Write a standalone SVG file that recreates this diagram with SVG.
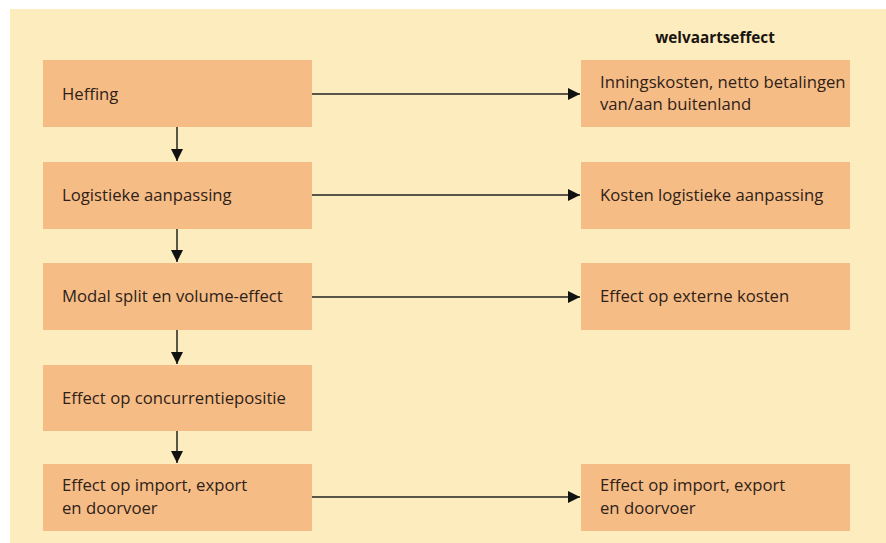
<svg xmlns="http://www.w3.org/2000/svg" width="886" height="543" viewBox="0 0 886 543">
<defs>
<marker id="ah" markerWidth="12" markerHeight="12" viewBox="0 0 12 12" refX="12" refY="6" orient="auto" markerUnits="userSpaceOnUse">
<path d="M0,0 L12,6 L0,12 Z" fill="#111"/>
</marker>
<style>
.box{fill:#F6BC86}
.t{font-family:"Open Sans","Noto Sans","Liberation Sans",sans-serif;font-size:16.7px;fill:#2e2218}
.h{font-family:"Open Sans","Noto Sans","Liberation Sans",sans-serif;font-size:15.3px;font-weight:bold;fill:#1a1410}
.c{stroke:#222;stroke-width:1.5;fill:none;marker-end:url(#ah)}
</style>
</defs>
<rect x="0" y="0" width="886" height="543" fill="#ffffff"/>
<rect x="10" y="9" width="876" height="534" fill="#FDEDBE"/>
<text class="h" x="715" y="43" text-anchor="middle">welvaartseffect</text>
<g id="heffing"><rect class="box" x="43" y="60" width="269" height="67"/><text class="t" x="62" y="100">Heffing</text></g>
<g id="logistiek"><rect class="box" x="43" y="162" width="269" height="67"/><text class="t" x="62" y="201">Logistieke aanpassing</text></g>
<g id="modal"><rect class="box" x="43" y="263" width="269" height="67"/><text class="t" x="62" y="302">Modal split en volume-effect</text></g>
<g id="concurrentie"><rect class="box" x="43" y="365" width="269" height="66"/><text class="t" x="62" y="404">Effect op concurrentiepositie</text></g>
<g id="import"><rect class="box" x="43" y="464" width="269" height="67"/><text class="t" x="62" y="491">Effect op import, export</text><text class="t" x="62" y="514">en doorvoer</text></g>
<g id="inning"><rect class="box" x="581" y="60" width="269" height="67"/><text class="t" x="600" y="88">Inningskosten, netto betalingen</text><text class="t" x="600" y="110">van/aan buitenland</text></g>
<g id="kosten"><rect class="box" x="581" y="162" width="269" height="67"/><text class="t" x="600" y="201">Kosten logistieke aanpassing</text></g>
<g id="extern"><rect class="box" x="581" y="263" width="269" height="67"/><text class="t" x="600" y="302">Effect op externe kosten</text></g>
<g id="import2"><rect class="box" x="581" y="464" width="269" height="67"/><text class="t" x="600" y="491">Effect op import, export</text><text class="t" x="600" y="514">en doorvoer</text></g>
<g id="connectors">
<path class="c" d="M177,127 V161"/>
<path class="c" d="M177,229 V262"/>
<path class="c" d="M177,330 V364"/>
<path class="c" d="M177,431 V463"/>
<path class="c" d="M312,94 H580"/>
<path class="c" d="M312,195 H580"/>
<path class="c" d="M312,297 H580"/>
<path class="c" d="M312,497 H580"/>
</g>
</svg>
